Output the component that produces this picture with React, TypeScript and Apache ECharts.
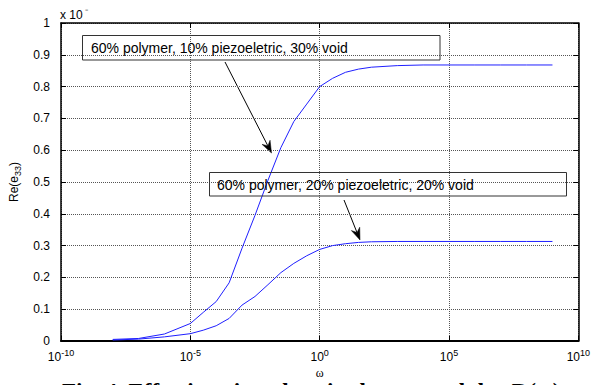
import React, { useEffect, useRef } from "react";
import * as echarts from "echarts";

// log10(omega) sample positions
const omegaExp = [-8, -7, -6, -5, -4.5, -4, -3.5, -3, -2.5, -2, -1.5, -1, -0.5, 0, 0.5, 1, 1.5, 2, 3, 4, 5, 6, 7, 8, 9];
// 60% polymer, 10% piezoeletric, 30% void
const re10 = [0.005, 0.008, 0.022, 0.055, 0.09, 0.124, 0.183, 0.292, 0.395, 0.505, 0.608, 0.69, 0.745, 0.8, 0.826, 0.845, 0.855, 0.861, 0.866, 0.868, 0.868, 0.868, 0.868, 0.868, 0.868];
// 60% polymer, 20% piezoeletric, 20% void
const re20 = [0.003, 0.006, 0.013, 0.023, 0.034, 0.048, 0.071, 0.113, 0.14, 0.177, 0.215, 0.244, 0.268, 0.288, 0.3, 0.306, 0.31, 0.312, 0.313, 0.313, 0.313, 0.313, 0.313, 0.313, 0.313];

const xTicks = { min: -10, max: 10, interval: 5 };
const yTicks = { min: 0, max: 1, interval: 0.1 };

const label1 = "60% polymer, 10% piezoeletric, 30% void";
const label2 = "60% polymer, 20% piezoeletric, 20% void";
const caption = "Fig. 4. Effective piezoelectric charge modulus D(ω)";

const SANS = "'Liberation Sans', Arial, Helvetica, sans-serif";

function arrow(x1: number, y1: number, x2: number, y2: number) {
  const dx = x2 - x1;
  const dy = y2 - y1;
  const len = Math.sqrt(dx * dx + dy * dy);
  const ux = dx / len;
  const uy = dy / len;
  const px = -uy;
  const py = ux;
  const L = 12;
  const W = 4.5;
  const N = 8;
  const bx = x2 - ux * L;
  const by = y2 - uy * L;
  const nx = x2 - ux * N;
  const ny = y2 - uy * N;
  return [
    {
      type: "line",
      shape: { x1, y1, x2: nx, y2: ny },
      style: { stroke: "#000", lineWidth: 1 },
      silent: true,
    },
    {
      type: "polygon",
      shape: {
        points: [
          [x2, y2],
          [bx + px * W, by + py * W],
          [nx, ny],
          [bx - px * W, by - py * W],
        ],
      },
      style: { fill: "#000", stroke: "#000", lineWidth: 0.5 },
      silent: true,
    },
  ];
}

export default function App() {
  const ref = useRef<HTMLDivElement>(null);
  useEffect(() => {
    if (!ref.current) return;
    const chart = echarts.init(ref.current, null, { renderer: "svg" });
    const supRich = {
      b: { fontSize: 12, fontFamily: SANS, color: "#000" },
      s: { fontSize: 9, fontFamily: SANS, color: "#000", padding: [0, 0, 8, 0] },
    };
    const commonX = {
      type: "value",
      min: xTicks.min,
      max: xTicks.max,
      interval: xTicks.interval,
    };
    const commonY = {
      type: "value",
      min: yTicks.min,
      max: yTicks.max,
      interval: yTicks.interval,
    };
    chart.setOption({
      animation: false,
      backgroundColor: "#fff",
      grid: { left: 60, right: 14, top: 23, bottom: 44, containLabel: false },
      xAxis: [
        {
          ...commonX,
          position: "bottom",
          name: "ω",
          nameLocation: "middle",
          nameGap: 21,
          nameTextStyle: { fontFamily: "'Liberation Serif', 'Times New Roman', serif", fontSize: 12, color: "#000", lineHeight: 12 },
          axisLine: { show: true, onZero: false, lineStyle: { color: "#000", width: 2 } },
          axisTick: { show: true, inside: true, length: 5, lineStyle: { color: "#000" } },
          axisLabel: {
            margin: 7,
            formatter: (v: number) => `{b|10}{s|${v}}`,
            rich: supRich,
          },
          splitLine: { show: true, lineStyle: { color: "#555", width: 1, type: [1, 1] } },
        },
        {
          ...commonX,
          position: "top",
          axisLine: { show: true, onZero: false, lineStyle: { color: "#000", width: 1.5 } },
          axisTick: { show: true, inside: true, length: 5, lineStyle: { color: "#000" } },
          axisLabel: { show: false },
          splitLine: { show: false },
        },
      ],
      yAxis: [
        {
          ...commonY,
          position: "left",
          name: "{a|Re(e}{s|33}{a|)}",
          nameLocation: "middle",
          nameGap: 39,
          nameRotate: 90,
          nameTextStyle: {
            rich: {
              a: { fontSize: 12, fontFamily: SANS, color: "#000" },
              s: { fontSize: 9, fontFamily: SANS, color: "#000", padding: [7, 0, 0, 0] },
            },
          },
          axisLine: { show: true, onZero: false, lineStyle: { color: "#000", width: 1.5 } },
          axisTick: { show: true, inside: true, length: 5, lineStyle: { color: "#000" } },
          axisLabel: {
            margin: 11,
            fontSize: 12,
            fontFamily: "'Liberation Sans Narrow', 'Liberation Sans', Arial, sans-serif",
            color: "#000",
            formatter: (v: number) => String(Math.round(v * 10) / 10),
          },
          splitLine: { show: true, lineStyle: { color: "#555", width: 1, type: [1, 1] } },
        },
        {
          ...commonY,
          position: "right",
          axisLine: { show: true, onZero: false, lineStyle: { color: "#000", width: 1.5 } },
          axisTick: { show: true, inside: true, length: 5, lineStyle: { color: "#000" } },
          axisLabel: { show: false },
          splitLine: { show: false },
        },
      ],
      series: [
        {
          type: "line",
          name: label1,
          xAxisIndex: 0,
          yAxisIndex: 0,
          data: omegaExp.map((e, i) => [e, re10[i]]),
          showSymbol: false,
          symbol: "none",
          lineStyle: { color: "#1f1fff", width: 1 },
          z: 3,
        },
        {
          type: "line",
          name: label2,
          xAxisIndex: 0,
          yAxisIndex: 0,
          data: omegaExp.map((e, i) => [e, re20[i]]),
          showSymbol: false,
          symbol: "none",
          lineStyle: { color: "#1f1fff", width: 1 },
          z: 3,
        },
      ],
      graphic: [
        {
          type: "text",
          x: 60,
          y: 7,
          style: {
            text: "{a|x 10}{s| ⁻}",
            rich: {
              a: { fontSize: 12, fontFamily: SANS, fill: "#000" },
              s: { fontSize: 10, fontFamily: SANS, fill: "#000", padding: [0, 0, 6, 0] },
            },
          },
          silent: true,
        },
        {
          type: "rect",
          shape: { x: 82.5, y: 35.5, width: 357.5, height: 24.5 },
          style: { fill: "none", stroke: "#333", lineWidth: 1 },
          silent: true,
          z: 10,
        },
        {
          type: "text",
          x: 91,
          y: 48,
          style: { text: label1, fontSize: 14, fontFamily: SANS, fill: "#000", verticalAlign: "middle" },
          silent: true,
          z: 10,
        },
        {
          type: "rect",
          shape: { x: 209.5, y: 172.5, width: 357, height: 23.5 },
          style: { fill: "none", stroke: "#333", lineWidth: 1 },
          silent: true,
          z: 10,
        },
        {
          type: "text",
          x: 217,
          y: 184.5,
          style: { text: label2, fontSize: 14, fontFamily: SANS, fill: "#000", verticalAlign: "middle" },
          silent: true,
          z: 10,
        },
        ...arrow(225, 62, 271.5, 153),
        ...arrow(344, 200, 360, 240),
        {
          type: "text",
          x: 62,
          y: 380,
          style: {
            text: caption,
            fontSize: 23,
            lineHeight: 23,
            fontWeight: "bold",
            fontFamily: "'Liberation Serif', 'Times New Roman', serif",
            fill: "#000",
            verticalAlign: "top",
          },
          silent: true,
        },
      ],
    });
    return () => chart.dispose();
  }, []);
  return <div ref={ref} style={{ width: 593, height: 385, position: "absolute", left: 0, top: 0 }} />;
}
